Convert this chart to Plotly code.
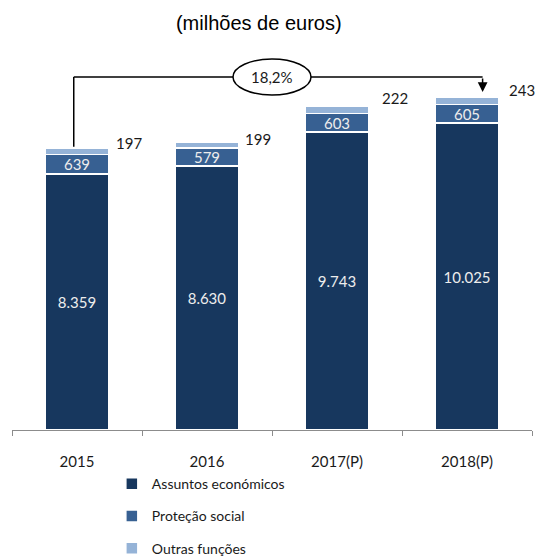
import plotly.graph_objects as go

# Despesa por função (milhões de euros)
anos = ["2015", "2016", "2017(P)", "2018(P)"]
assuntos_economicos = [8359, 8630, 9743, 10025]
protecao_social = [639, 579, 603, 605]
outras_funcoes = [197, 199, 222, 243]

series = [
    ("Assuntos económicos", assuntos_economicos, "#17375E"),
    ("Proteção social", protecao_social, "#376092"),
    ("Outras funções", outras_funcoes, "#95B3D7"),
]

totais = [a + b + c for a, b, c in zip(assuntos_economicos, protecao_social, outras_funcoes)]
crescimento = round(100 * (totais[-1] / totais[0] - 1), 1)


def pt(v):
    return f"{v:,}".replace(",", ".")


def px(idx):
    """Category position (0-based, may be fractional) to x-domain fraction."""
    return (idx + 0.5) / len(anos)


NUM_FONT = "Lato"
XD = "x domain"
fig = go.Figure()

for i, (nome, valores, cor) in enumerate(series):
    interior = i < 2
    fig.add_trace(go.Bar(
        name=nome,
        x=anos,
        y=valores,
        marker=dict(color=cor, line=dict(color="white", width=1.5)),
        text=[pt(v) for v in valores] if interior else None,
        textposition="inside" if interior else "none",
        insidetextanchor="middle",
        constraintext="none",
        textangle=0,
        textfont=dict(family=NUM_FONT, size=15, color="#EDEDED"),
        legendgroup=nome,
        hoverinfo="skip",
    ))

# "Outras funções" values written beside the top of each bar
offsets = [(52, 6), (51, 3), (58, 9), (55, 7)]
for i, (tot, v, (dx, dy)) in enumerate(zip(totais, outras_funcoes, offsets)):
    fig.add_annotation(x=px(i), y=tot, xref=XD, yref="y", text=pt(v), showarrow=False,
                       xanchor="center", yanchor="middle", xshift=dx, yshift=dy,
                       font=dict(family=NUM_FONT, size=15, color="#1A1A1A"))

# Growth bracket from the first to the last year
nivel = totais[-1] * 1.061
x_ini, x_fim = px(-0.025), px(3.12)
fig.add_shape(type="line", x0=x_ini, x1=x_ini, y0=totais[0] + 60, y1=nivel,
              xref=XD, yref="y", line=dict(color="black", width=1.5))
fig.add_shape(type="line", x0=x_ini, x1=x_fim, y0=nivel, y1=nivel,
              xref=XD, yref="y", line=dict(color="black", width=1.5))
fig.add_annotation(x=x_fim, y=totais[-1] + 170, ax=x_fim, ay=nivel,
                   xref=XD, yref="y", axref=XD, ayref="y",
                   text="", showarrow=True, arrowhead=2, arrowsize=1.3,
                   arrowwidth=1.5, arrowcolor="black", standoff=0)
fig.add_shape(type="circle", x0=px(1.2), x1=px(1.8), y0=nivel - 590, y1=nivel + 590,
              xref=XD, yref="y", fillcolor="white",
              line=dict(color="black", width=1.5))
fig.add_annotation(x=px(1.5), y=nivel, xref=XD, yref="y",
                   text=f"{crescimento:.1f}%".replace(".", ","),
                   xanchor="center", yanchor="middle",
                   showarrow=False, font=dict(family=NUM_FONT, size=15, color="#1A1A1A"))

fig.update_layout(
    width=538,
    height=557,
    margin=dict(l=12, r=6, t=40, b=127, autoexpand=False),
    paper_bgcolor="white",
    plot_bgcolor="white",
    barmode="stack",
    bargap=0.515,
    showlegend=True,
    title=dict(text="(milhões de euros)", x=0.481, y=0.9587, xanchor="center",
               yanchor="middle", font=dict(family="Liberation Sans, Arial", size=20, color="black")),
    legend=dict(
        orientation="v",
        x=0.192,
        xanchor="left",
        y=-0.098,
        yanchor="top",
        traceorder="grouped",
        tracegroupgap=11,
        font=dict(family=NUM_FONT, size=14, color="#1A1A1A"),
        bgcolor="rgba(0,0,0,0)",
    ),
    xaxis=dict(
        type="category",
        categoryorder="array",
        categoryarray=anos,
        range=[-0.5, len(anos) - 0.5],
        showline=True,
        linecolor="#8C8C8C",
        linewidth=1,
        ticks="outside",
        tickson="boundaries",
        ticklen=5,
        tickcolor="#8C8C8C",
        tickangle=0,
        ticklabelstandoff=18,
        tickfont=dict(family=NUM_FONT, size=15, color="#1A1A1A"),
        showgrid=False,
        fixedrange=True,
    ),
    yaxis=dict(
        range=[0, 12745],
        visible=False,
        showgrid=False,
        zeroline=False,
        fixedrange=True,
    ),
)

fig.write_html("out.html")
